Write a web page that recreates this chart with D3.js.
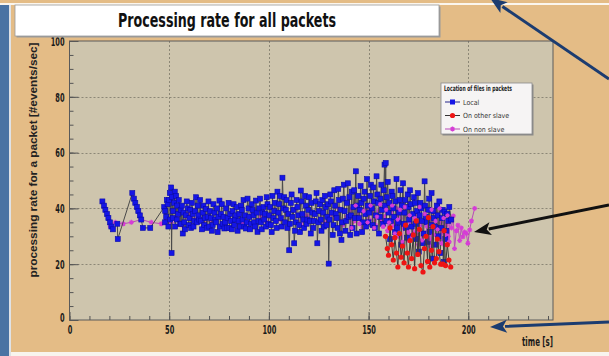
<!DOCTYPE html>
<html lang="en">
<head>
<meta charset="UTF-8" />
<title>Processing rate for all packets</title>
<script src="https://cdn.jsdelivr.net/npm/d3@7"></script>
<style>
  body { margin: 0; background: #e4bc86; }
  svg { display: block; }
</style>
</head>
<body>
<svg id="chart" width="609" height="356"></svg>
<script>
// [time (s), rate (#events/sec)]
var localData = [
  [16.5,42.5],[17.3,41],[18,39.5],[18.8,38],[19.5,36.5],[20.3,35],[21,33.5],[21.8,32.5],[24,34.5],[24.2,29],
  [31.5,45.5],[32.3,43.5],[33,42],[33.8,40.5],[34.5,39],[35.3,37.5],[36,36],[36.8,33],[40.5,33],
  [47.5,40.5],[48,39],[48.5,37],[49.2,41.5],[50,43],[50.5,36],[51,47.5],[51.2,24],[51.5,44],[52,39],[52.5,42],
  [53,33.5],[53.5,44.5],[54,41],[54.5,38],[55.5,34.5],
  [56.0,34.5],[56.8,31],[57.6,35],[58.4,37.5],[59.3,40],[60.2,36.5],[61.0,33],[61.8,38],[62.6,35.5],[63.5,44],
  [64.3,41],[65.1,36],[66.0,35.5],[66.8,38.5],[67.6,34],[68.5,39.8],[69.3,37],[70.1,33.5],[71.0,36.5],[71.8,34],
  [72.7,38.5],[73.5,35],[74.3,31.5],[75.2,42.8],[76.0,38],[76.8,34.5],[77.7,32.8],[78.5,40],[79.3,36.5],[80.2,33],
  [81.0,35.5],[81.8,39],[82.7,34],[83.5,37.5],[84.3,32],[85.2,38],[86.0,41],[86.8,36],[87.7,33.5],[88.5,32.8],
  [89.3,43.5],[90.2,37],[91.0,34.5],[91.8,39.5],[92.7,35],[93.5,42.8],[94.3,31.6],[95.2,40],[96.0,35],[96.8,38.5],
  [97.7,36],[98.5,33.5],[99.3,41.5],[100.2,37.5],[101.0,34],[101.8,44.5],[102.7,39],[103.5,35.5],[104.3,46],[105.2,41.5],
  [106.0,36.5],[106.8,51],[107.7,44],[108.5,39.5],[109.3,33],[110.2,25],[111.0,42],[111.8,37],[112.7,27.5],[113.5,35],
  [114.3,40.5],[115.2,34],[116.0,46.4],[116.8,38],[117.7,33],[118.5,41],[119.3,36],[120.2,44],[121.0,31],[121.8,38.5],
  [122.7,35.5],[123.5,42.5],[124.3,27.5],[125.2,39],[126.0,36],[126.8,43],[127.7,33.5],[128.5,40.5],[129.3,37],[130.0,20.2],
  [130.8,45],[131.6,38.5],[132.4,34],[133.2,41],[134.0,36.5],[134.8,47],[135.6,31],[136.4,28.7],[137.2,43.5],[138.0,39],
  [138.8,35.5],[139.6,49],[140.4,44],[141.2,37.5],[142.0,33],[142.8,46.5],[143.6,53.3],[144.4,41],[145.2,36.5],[146.0,48],
  [146.8,31.5],[147.6,43.5],[148.4,38],[149.2,50.5],[150.0,35],[150.8,44.5],[151.6,40],[152.4,47.5],[153.2,33],[154.0,51.5],
  [154.8,42],[155.6,37],[156.4,48.5],[157.2,34.5],[158.0,55.7],[158.6,56.3],[159.2,44],[160.0,38.5],[160.8,29],[161.6,46],
  [162.4,40],[163.2,31.5],[164.0,50.5],[164.8,35],[165.6,43],[166.4,27],[167.3,49],[168.0,38.5],[168.8,33],[169.6,45],
  [170.4,36],[171.2,41.5],[172.0,30],[172.8,44],[173.6,34.5],[174.4,39],[175.2,24.5],[176.0,42],[176.8,35.5],[177.6,31],
  [178.1,49.7],[178.8,37],[179.6,28],[180.4,43.5],[181.2,34],[182.0,22],[182.5,39],[183.4,33.5],[184.2,41],[185.0,30],
  [186.0,24],[186.8,36.5],[187.8,20.8],[188.1,38.8],[189.0,32],[190.0,35.5]
];

// second worker's packets, same series
var localData2 = [
  [47.9,35],[48.8,43],[49.6,33.5],[50.3,45.5],[51.8,36.5],[52.8,46],[53.8,36],[54.8,43],[55.8,39.5],[56.4,41],
  [57.2,38.5],[58.0,32.5],[58.8,42.5],[59.8,34],[60.6,39.5],[61.4,42],[62.2,33.5],[63.0,39],[63.9,35],[64.7,37.5],
  [65.5,43],[66.4,32.5],[67.2,41],[68.0,36.5],[68.9,33],[69.7,42.5],[70.5,39],[71.4,32],[72.2,41.5],[73.1,36],
  [73.9,40],[74.7,37],[75.6,33.5],[76.4,41.5],[77.3,37],[78.1,35],[78.9,33],[79.8,42],[80.6,38],[81.4,32.5],
  [82.3,41.5],[83.1,36],[83.9,40.5],[84.8,35.5],[85.6,33.5],[86.4,39.5],[87.3,43],[88.1,37.5],[88.9,35],[89.8,40],
  [90.6,32.5],[91.4,41.5],[92.3,37.5],[93.1,33.5],[93.9,38.5],[94.8,35.5],[95.6,43.5],[96.4,32.5],[97.3,40.5],[98.1,38],
  [98.9,44],[99.8,34.5],[100.6,40.5],[101.4,31.5],[102.3,36.5],[103.1,42],[103.9,33],[104.8,38.5],[105.6,44.5],[106.4,33.5],
  [107.3,40],[108.1,35],[108.9,43],[109.8,38],[110.6,34.5],[111.4,45],[112.3,39.5],[113.1,32],[113.9,43],[114.8,37.5],
  [115.6,31.5],[116.4,42.5],[117.3,36],[118.1,44.5],[118.9,34.5],[119.8,39.5],[120.6,35.5],[121.4,42],[122.3,33],[123.1,38],
  [123.9,45.5],[124.8,35],[125.6,41.5],[126.4,32],[127.3,38.5],[128.1,44.5],[128.9,34],[129.7,41.5],[130.4,36],[131.2,42.5],
  [132.0,30.5],[132.8,46.5],[133.6,38],[134.4,33],[135.2,43],[136.0,39.5],[136.8,35],[137.6,48.5],[138.4,32],[139.2,42],
  [140.0,37],[140.8,30.5],[141.6,46],[142.4,40.5],[143.2,36.5],[144.0,31],[144.8,44.5],[145.6,39.5],[146.4,42],[147.2,35],
  [148.0,46],[148.8,33.5],[149.6,41],[150.4,38.5],[151.2,48.5],[152.0,34],[152.8,42.5],[153.6,37.5],[154.4,45],[155.2,31],
  [156.0,43.5],[156.8,39.5],[157.6,46.5],[158.3,41],[158.9,35.5],[159.6,49.5],[160.4,42],[161.2,35.5],[162.0,44.5],[162.8,37],
  [163.6,42.5],[164.4,33],[165.2,38.5],[166.0,46.5],[166.8,41],[167.7,34.5],[168.4,43],[169.2,29.5],[170.0,40.5],[170.8,46.5],
  [171.6,33.5],[172.4,38],[173.2,42],[174.0,29],[174.8,45.5],[175.6,37.5],[176.4,40],[177.2,27.5],[178.4,41],[179.2,35],
  [180.0,39.5],[180.8,31.5],[181.6,45.5],[182.9,36.5],[183.8,27],[184.6,37.5],[185.5,42.5],[186.4,33],[187.2,39.5],[188.5,29],
  [189.5,38],[190.5,40.5],[191.5,36]
];

var otherData = [
  [158.5,30],[159.4,25.6],[160.0,23.2],[160.8,33],[161.6,27],[162.4,21.5],[163.2,29.5],[164.0,24],[164.7,19],[165.5,31],
  [166.3,22.5],[167.0,26.5],[167.8,20.5],[168.6,34],[169.4,24],[170.0,19],[170.8,28.5],[171.6,22],[172.4,30.5],[173.1,18.4],
  [173.9,35.5],[174.7,23.5],[175.5,32.5],[176.3,19.5],[177.3,17.2],[178.0,25.6],[178.8,30],[179.6,21],[180.0,36.7],[180.7,19],
  [181.5,25],[182.3,33.5],[183.1,20.5],[184.0,22],[184.5,29],[185.3,24.5],[186.2,20],[187.3,20],[187.9,32],[188.6,19.5],
  [189.5,27],[190.3,21.5],[191.2,19]
];

var nonSlaveData = [
  [20.5,33.5],[23,35],[27,34.5],[31,35],[36,36],[41,35],[46,34.5],[48.5,36],[51,35],[54,37],
  [56.5,34],[59.5,38],[63,36],[67,35],[71.5,35.5],[75,37],[79,36],[83,36.6],[87,34.5],[92,39.5],
  [96,37],[99,35],[103,39.5],[106,36],[109,38],[113,39.5],[116,34],[119,37.5],[122,36],[125,39],
  [128,35],[131,38],[133,36.5],[135,40],[137,34],[139,37],[141,39.5],[143,35.5],[145,38],[147,33],
  [149,40],[150.5,36],[152,38.5],[153.5,34],[155,39],[156.5,35.5],[158,37],[159.5,32],[161,38.5],[162.5,34],
  [164,40],[165,30],[166,36.5],[167.5,33],[169,38],[170,28.5],[171,35],[172.5,31.5],[174,39],[175,27],
  [176,34],[177.5,30],[179,37],[180,32],[181,26.5],[182,36],[183,33],[184,38.5],[185,29],[186,35],
  [187,31.5],[188,27],[189,34],[190,30],[190.8,36.5],[191.6,33],[192.5,37.3],[193.1,25.6],[194,32],[194.8,34],
  [195.7,28.5],[196.5,33],[197.3,29.8],[198.2,31.5],[199,31],[199.8,27.5],[200.7,32.3],[201.6,35.5],[203.2,40]
];

var nonSlaveData2 = [
  [141.5,33],[143.5,41],[145.5,34.5],[147.5,39],[149.5,35],[151,41],[152.8,33],[154.2,37],[155.8,41.5],[157.3,33.5],
  [158.8,39.5],[160.3,35],[161.8,41],[163.2,31],[164.6,36],[165.8,39.5],[166.8,28],[168.2,40.5],[169.6,31.5],[170.6,37.5],
  [171.8,29.5],[173.2,36.5],[174.5,32],[175.6,40.5],[176.8,28.5],[178.2,38],[179.5,33.5],[180.6,29],[181.6,39.5],[182.6,30.5],
  [183.6,35.5],[184.6,32.5],[185.6,40],[186.6,27.5],[187.6,36.5],[188.6,30.5],[189.6,37.5],[190.4,28]
];

var xTicks = [0, 50, 100, 150, 200];
var yTicks = [0, 20, 40, 60, 80, 100];
var legendTitle = "Location of files in packets";
var legendLabels = ["Local", "On other slave", "On non slave"];

(function () {
  var narrow = "'Liberation Sans Narrow', 'DejaVu Sans Condensed', 'Arial Narrow', Arial, sans-serif";
  var svg = d3.select("#chart");
  var byTime = function (a, b) { return a[0] - b[0]; };
  var local = localData.concat(localData2).sort(byTime);
  var nonSlave = nonSlaveData.concat(nonSlaveData2).sort(byTime);

  // slide background
  svg.append("rect").attr("width", 609).attr("height", 356).attr("fill", "#e4bc86");
  svg.append("rect").attr("x", 0).attr("y", 3).attr("width", 609).attr("height", 2).attr("fill", "#fbf6ee");
  svg.append("rect").attr("x", 9).attr("y", 352).attr("width", 600).attr("height", 4).attr("fill", "#f8f4ee");
  svg.append("rect").attr("x", 0).attr("y", 5).attr("width", 9).attr("height", 351).attr("fill", "#4a73a3");
  svg.append("rect").attr("x", 9).attr("y", 5).attr("width", 2).attr("height", 351).attr("fill", "#dfe2e6");

  // frame
  var fL = 69.5, fR = 553, fT = 41, fB = 320;
  var x = d3.scaleLinear().domain([0, 242.5]).range([fL, fR]);
  var y = d3.scaleLinear().domain([0, 100]).range([fB, fT]);

  svg.append("rect")
    .attr("x", fL).attr("y", fT)
    .attr("width", fR - fL).attr("height", fB - fT)
    .attr("fill", "#cec5ad");

  // dotted grid
  var grid = svg.append("g").attr("stroke", "#8c8776").attr("stroke-dasharray", "2,2").attr("stroke-width", 1);
  grid.selectAll(".gx").data(xTicks.slice(1)).enter().append("line")
    .attr("x1", function (d) { return Math.round(x(d)) + 0.5; })
    .attr("x2", function (d) { return Math.round(x(d)) + 0.5; })
    .attr("y1", fT).attr("y2", fB);
  grid.selectAll(".gy").data(yTicks.slice(1, -1)).enter().append("line")
    .attr("y1", function (d) { return Math.round(y(d)) + 0.5; })
    .attr("y2", function (d) { return Math.round(y(d)) + 0.5; })
    .attr("x1", fL).attr("x2", fR);

  // axes, ROOT style ticks inside the frame
  var yMinor = svg.append("g").attr("transform", "translate(" + fL + ",0)")
    .call(d3.axisLeft(y).tickValues(d3.range(0, 101, 5)).tickSize(-4).tickFormat(""));
  var yAxis = svg.append("g").attr("transform", "translate(" + fL + ",0)")
    .call(d3.axisLeft(y).tickValues(yTicks).tickSize(-9).tickPadding(5));
  var xMinor = svg.append("g").attr("transform", "translate(0," + fB + ")")
    .call(d3.axisBottom(x).tickValues(d3.range(0, 241, 10)).tickSize(-4).tickFormat(""));
  var xAxis = svg.append("g").attr("transform", "translate(0," + fB + ")")
    .call(d3.axisBottom(x).tickValues(xTicks).tickSize(-8).tickPadding(5));

  [yMinor, yAxis, xMinor, xAxis].forEach(function (g) {
    g.select(".domain").remove();
    g.selectAll(".tick line").attr("stroke", "#555");
    g.selectAll("text").attr("font-family", narrow).attr("font-weight", "bold")
      .attr("font-size", 12).attr("fill", "#1a1a1a")
      .attr("textLength", function (d) { return String(d).length * 4.6; })
      .attr("lengthAdjust", "spacingAndGlyphs");
  });
  yAxis.selectAll("text").attr("dy", "0.36em");
  yAxis.selectAll(".tick").filter(function (d) { return d === 0; }).select("text").attr("dy", "0.1em");
  xAxis.selectAll("text").attr("dy", "0.72em");

  svg.append("rect")
    .attr("x", fL).attr("y", fT)
    .attr("width", fR - fL).attr("height", fB - fT)
    .attr("fill", "none").attr("stroke", "#5a5a5a").attr("stroke-width", 1);

  // series
  var line = d3.line().x(function (d) { return x(d[0]); }).y(function (d) { return y(d[1]); });

  function starPath(s) {
    return "M" + (-s) + ",0H" + s + "M0," + (-s) + "V" + s +
      "M" + (-s * 0.7) + "," + (-s * 0.7) + "L" + (s * 0.7) + "," + (s * 0.7) +
      "M" + (-s * 0.7) + "," + (s * 0.7) + "L" + (s * 0.7) + "," + (-s * 0.7);
  }

  // on non slave (magenta)
  svg.append("path").datum(nonSlave).attr("d", line)
    .attr("fill", "none").attr("stroke", "#b84ab8").attr("stroke-width", 1);
  svg.append("g").selectAll("path").data(nonSlave).enter().append("path")
    .attr("transform", function (d) { return "translate(" + x(d[0]) + "," + y(d[1]) + ")"; })
    .attr("d", starPath(2.5)).attr("stroke", "#d63cd6").attr("stroke-width", 1.2).attr("fill", "none");

  // local (blue)
  svg.append("path").datum(local).attr("d", line)
    .attr("fill", "none").attr("stroke", "#4a4a4a").attr("stroke-width", 1);
  svg.append("g").selectAll("rect").data(local).enter().append("rect")
    .attr("x", function (d) { return x(d[0]) - 2.5; })
    .attr("y", function (d) { return y(d[1]) - 2.5; })
    .attr("width", 5).attr("height", 5)
    .attr("fill", "#1515e6").attr("stroke", "#0a0aa8").attr("stroke-width", 0.6);

  // magenta tail drawn again above the blue where it pokes through
  svg.append("g").selectAll("path").data(nonSlaveData2).enter().append("path")
    .attr("transform", function (d) { return "translate(" + x(d[0]) + "," + y(d[1]) + ")"; })
    .attr("d", starPath(2.2)).attr("stroke", "#d63cd6").attr("stroke-width", 1.1).attr("fill", "none");

  // on other slave (red)
  svg.append("path").datum(otherData).attr("d", line)
    .attr("fill", "none").attr("stroke", "#3a3a3a").attr("stroke-width", 1);
  svg.append("g").selectAll("circle").data(otherData).enter().append("circle")
    .attr("cx", function (d) { return x(d[0]); })
    .attr("cy", function (d) { return y(d[1]); })
    .attr("r", 2.6).attr("fill", "#ee1414");

  // legend
  var lg = svg.append("g").attr("transform", "translate(441,83)");
  lg.append("rect").attr("x", 1.5).attr("y", 1.5).attr("width", 91).attr("height", 51).attr("fill", "#8a8a8a");
  lg.append("rect").attr("width", 91).attr("height", 51).attr("fill", "#f6f4f4")
    .attr("stroke", "#8a8a8a").attr("stroke-width", 0.8);
  lg.append("text").attr("x", 3).attr("y", 8).text(legendTitle)
    .attr("font-family", narrow).attr("font-size", 7.5).attr("font-weight", "bold").attr("fill", "#222")
    .attr("textLength", 68).attr("lengthAdjust", "spacingAndGlyphs");
  var legendStroke = ["#24248a", "#333", "#b84ab8"];
  var entries = lg.selectAll(".entry").data(legendLabels).enter().append("g")
    .attr("transform", function (d, i) { return "translate(0," + (19 + i * 13.5) + ")"; });
  entries.append("line").attr("x1", 4).attr("x2", 19).attr("y1", 0).attr("y2", 0)
    .attr("stroke", function (d, i) { return legendStroke[i]; }).attr("stroke-width", 1);
  entries.append("text").attr("x", 22).attr("y", 2.5).text(function (d) { return d; })
    .attr("font-family", narrow).attr("font-size", 7).attr("fill", "#333");
  entries.filter(function (d, i) { return i === 0; }).append("rect")
    .attr("x", 9).attr("y", -2.5).attr("width", 5).attr("height", 5).attr("fill", "#1515e6");
  entries.filter(function (d, i) { return i === 1; }).append("circle")
    .attr("cx", 11.5).attr("cy", 0).attr("r", 2.6).attr("fill", "#ee1414");
  entries.filter(function (d, i) { return i === 2; }).append("path")
    .attr("transform", "translate(11.5,0)").attr("d", starPath(2.5))
    .attr("stroke", "#d63cd6").attr("stroke-width", 1.2);

  // title box
  svg.append("rect").attr("x", 16.5).attr("y", 6.5).attr("width", 424).attr("height", 31).attr("fill", "#9a9a9a");
  svg.append("rect").attr("x", 15).attr("y", 5).attr("width", 424).attr("height", 31)
    .attr("fill", "#ffffff").attr("stroke", "#9a9a9a").attr("stroke-width", 0.8);
  svg.append("text").attr("x", 227).attr("y", 27).attr("text-anchor", "middle")
    .text("Processing rate for all packets")
    .attr("font-family", narrow).attr("font-weight", "bold").attr("font-size", 19).attr("fill", "#111")
    .attr("textLength", 218).attr("lengthAdjust", "spacingAndGlyphs");

  // axis titles
  svg.append("text").attr("transform", "translate(37,160) rotate(-90)").attr("text-anchor", "middle")
    .text("processing rate for a packet [#events/sec]")
    .attr("font-family", "'Liberation Sans', Arial, sans-serif").attr("font-weight", "bold")
    .attr("font-size", 10.5).attr("fill", "#222")
    .attr("textLength", 235).attr("lengthAdjust", "spacingAndGlyphs");
  svg.append("text").attr("x", 553).attr("y", 346).attr("text-anchor", "end").text("time [s]")
    .attr("font-family", narrow).attr("font-weight", "bold").attr("font-size", 12).attr("fill", "#1a1a1a")
    .attr("textLength", 31).attr("lengthAdjust", "spacingAndGlyphs");

  // slide arrows
  var arrows = [
    { from: [609, 79], to: [490, -2], color: "#1c3c70" },
    { from: [609, 205], to: [474, 232], color: "#111111" },
    { from: [609, 322], to: [490, 327], color: "#1c3c70" }
  ];
  arrows.forEach(function (a) {
    var dx = a.to[0] - a.from[0], dy = a.to[1] - a.from[1];
    var len = Math.sqrt(dx * dx + dy * dy), ux = dx / len, uy = dy / len;
    var hl = 17, hw = 6.5;
    var bx = a.to[0] - ux * hl, by = a.to[1] - uy * hl;
    svg.append("line").attr("x1", a.from[0]).attr("y1", a.from[1]).attr("x2", bx + ux * 2).attr("y2", by + uy * 2)
      .attr("stroke", a.color).attr("stroke-width", 3);
    svg.append("path")
      .attr("d", "M" + a.to[0] + "," + a.to[1] +
        "L" + (bx - uy * hw) + "," + (by + ux * hw) +
        "L" + (bx + ux * 4) + "," + (by + uy * 4) +
        "L" + (bx + uy * hw) + "," + (by - ux * hw) + "Z")
      .attr("fill", a.color);
  });
}).call(this);
</script>
</body>
</html>
